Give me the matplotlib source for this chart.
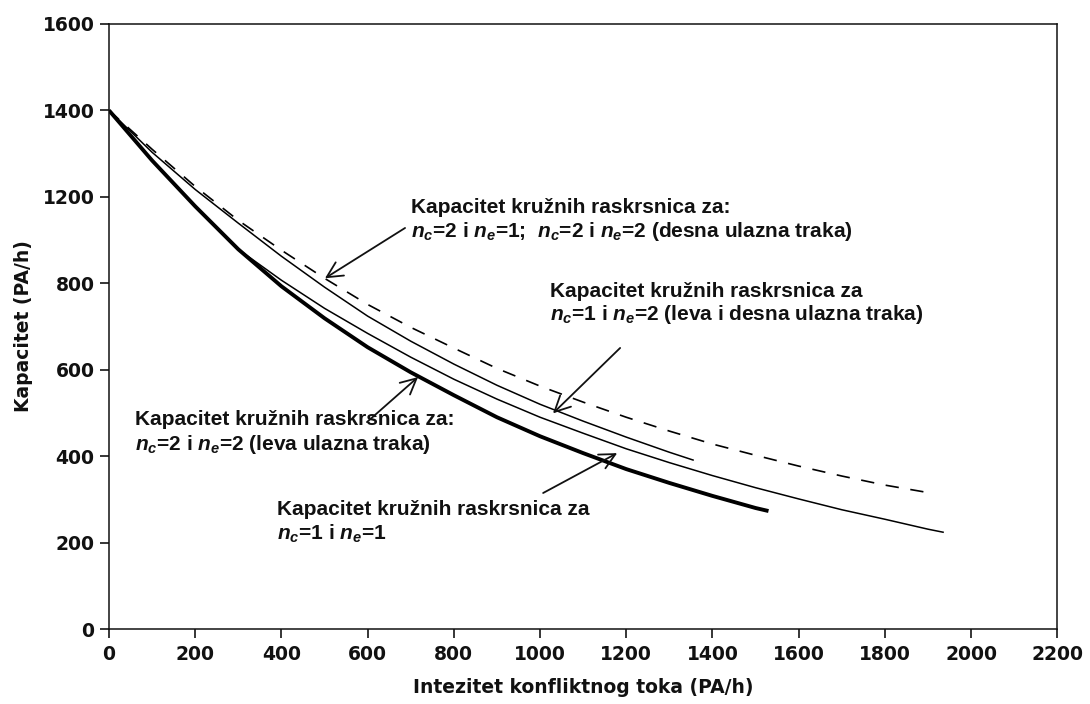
import numpy as np
import matplotlib
matplotlib.use('Agg')
import matplotlib.pyplot as plt

# Values (x in PA/h, y as labelled on the axis)
x_dashed = [0, 100, 200, 300, 400, 500, 600, 700, 800, 900, 1000,
            1100, 1200, 1300, 1400, 1500, 1600, 1700, 1800, 1910]
y_dashed = [1400, 1310, 1224, 1091, 953, 823, 751, 698, 650, 603, 562,
            525, 490, 458, 428, 402, 377, 354, 333, 314]

x_upper = [0, 100, 200, 300, 400, 500, 600, 700, 800, 900, 1000,
           1100, 1200, 1300, 1355]
y_upper = [1400, 1303, 1217, 1078, 925, 791, 724, 666, 613, 564, 520,
           481, 444, 409, 391]

x_left = [300, 400, 500, 600, 700, 800, 900, 1000, 1100, 1200, 1300,
          1400, 1500, 1600, 1700, 1800, 1900, 1935]
y_left = [957, 814, 742, 684, 629, 578, 532, 490, 453, 417, 385,
          355, 327, 301, 276, 254, 231, 224]

x_single = [0, 100, 200, 300, 400, 500, 600, 700, 800, 900, 1000,
            1100, 1200, 1300, 1400, 1500, 1530]
y_single = [1400, 1284, 1156, 957, 793, 719, 652, 594, 541, 490, 446,
            407, 370, 338, 308, 280, 273]

x_ticks = list(range(0, 2201, 200))
# the original axis skips 1000
y_ticks = [0, 200, 400, 600, 800, 1200, 1400, 1600]
y_pos = [0, 200, 400, 600, 800, 1000, 1200, 1400]

plt.rcParams['mathtext.fontset'] = 'custom'
plt.rcParams['mathtext.it'] = 'Liberation Sans:italic:bold'
plt.rcParams['mathtext.rm'] = 'Liberation Sans:bold'


def fwd(v):
    return np.interp(v, y_ticks, y_pos)


def inv(p):
    return np.interp(p, y_pos, y_ticks)


fig = plt.figure(figsize=(10.9, 7.04), dpi=100)
ax = fig.add_axes([0.100, 0.1065, 0.870, 0.8595])
ax.set_yscale('function', functions=(fwd, inv))

ax.plot(x_dashed, y_dashed, color='black', lw=1.2, dashes=(8, 7))
ax.plot(x_upper, y_upper, color='black', lw=1.1)
ax.plot(x_left, y_left, color='black', lw=1.1)
ax.plot(x_single, y_single, color='black', lw=2.8, solid_capstyle='butt')

ax.set_xlim(0, 2200)
ax.set_ylim(0, 1600)
ax.set_xticks(x_ticks, labels=[str(t) for t in x_ticks])
ax.set_yticks(y_ticks, labels=[str(t) for t in y_ticks])
ax.minorticks_off()

for lab in ax.get_xticklabels() + ax.get_yticklabels():
    lab.set_fontfamily('DejaVu Sans')
    lab.set_fontweight('bold')
    lab.set_fontsize(13.5)
    lab.set_color('#111111')
ax.tick_params(axis='x', direction='out', length=6.5, width=1.1, pad=5)
ax.tick_params(axis='y', direction='out', length=6.5, width=1.1, pad=4)
for sp in ax.spines.values():
    sp.set_linewidth(1.1)
    sp.set_color('#111111')

ax.set_xlabel('Intezitet konfliktnog toka (PA/h)', fontsize=13.5,
              fontweight='bold', family='DejaVu Sans', labelpad=10, color='#111111')
ax.set_ylabel('Kapacitet (PA/h)', fontsize=13.5, fontweight='bold',
              family='DejaVu Sans', labelpad=7, color='#111111')

# annotations: (line 1, line 2, text pos, arrow tail, arrow tip)
txt = dict(fontsize=15, family='Liberation Sans', fontweight='bold',
           color='#111111', transform=ax.transAxes, va='baseline', ha='left')
notes = [
    ('Kapacitet kružnih raskrsnica za:',
     '$n_c$=2 i $n_e$=1;  $n_c$=2 i $n_e$=2 (desna ulazna traka)',
     (0.3186, 0.6876, 0.648), (0.3122, 0.6628), (501, 823)),
    ('Kapacitet kružnih raskrsnica za',
     '$n_c$=1 i $n_e$=2 (leva i desna ulazna traka)',
     (0.465, 0.549, 0.511), (0.539, 0.4645), (1030, 499)),
    ('Kapacitet kružnih raskrsnica za:',
     '$n_c$=2 i $n_e$=2 (leva ulazna traka)',
     (0.0274, 0.337, 0.296), (0.272, 0.342), (717, 583)),
    ('Kapacitet kružnih raskrsnica za',
     '$n_c$=1 i $n_e$=1',
     (0.177, 0.188, 0.147), (0.4578, 0.2248), (1179, 407)),
]
for l1, l2, (tx, ty1, ty2), tail, tip in notes:
    ax.text(tx, ty1, l1, **txt)
    ax.text(tx, ty2, l2, **txt)
    ax.annotate('', xy=tip, xycoords='data', xytext=tail, textcoords='axes fraction',
                arrowprops=dict(arrowstyle='->', lw=1.3, color='#111111',
                                mutation_scale=28, shrinkA=0, shrinkB=0))

fig.savefig('out.png', dpi=100)
